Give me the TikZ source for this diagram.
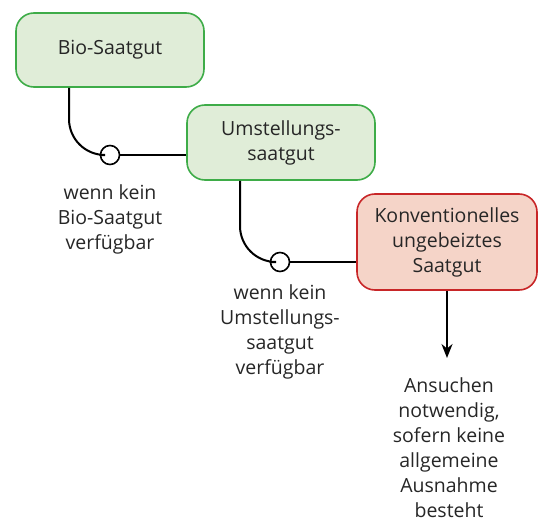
\documentclass[tikz,border=0pt]{standalone}
\usepackage{fontspec}
\setmainfont{Open Sans}
\usetikzlibrary{arrows.meta}

\definecolor{gruenrand}{RGB}{62,172,72}
\definecolor{gruenfill}{RGB}{224,237,216}
\definecolor{rotrand}{RGB}{200,38,40}
\definecolor{rotfill}{RGB}{245,212,200}

\tikzset{
    box/.style={rounded corners=18pt, line width=1.6pt, align=center,
        font=\fontsize{19.5}{25}\selectfont, text=black!85},
    bio/.style={box, draw=gruenrand, fill=gruenfill},
    konv/.style={box, draw=rotrand, fill=rotfill},
    knoten/.style={circle, draw, line width=1.6pt, fill=white, minimum size=19pt, inner sep=0pt},
    verb/.style={line width=2pt, rounded corners=36pt},
    hinweis/.style={align=center, font=\fontsize{19.5}{25}\selectfont, text=black!85}
}

\begin{document}
\begin{tikzpicture}[x=1pt, y=-1pt]
    % 画布大小
    \useasboundingbox (0,0) rectangle (538,524);

    % 三个方框
    \node[bio, minimum width=188pt, minimum height=74pt] (bio) at (110,50) {Bio-Saatgut};
    \node[bio, minimum width=188pt, minimum height=75pt] (umst) at (281,142.5) {Umstellungs-\\saatgut};
    \node[konv, minimum width=180pt, minimum height=96pt] (konv) at (447,242) {Konventionelles\\ungebeiztes\\Saatgut};

    % 分支点
    \node[knoten] (k1) at (110,155) {};
    \node[knoten] (k2) at (280,262) {};

    % 连线
    \draw[verb] ([xshift=-41pt]bio.south) |- (k1.west);
    \draw[line width=2pt] (k1.east) -- (k1.east -| umst.west);
    \draw[verb] ([xshift=-41pt]umst.south) |- (k2.west);
    \draw[line width=2pt] (k2.east) -- (k2.east -| konv.west);

    % 说明文字
    \node[hinweis, anchor=north] (t1) at (110,181) {wenn kein\\Bio-Saatgut\\verfügbar};
    \node[hinweis, anchor=north] (t2) at (280,281) {wenn kein\\Umstellungs-\\saatgut\\verfügbar};
    \node[hinweis, anchor=north] (t3) at (449,374) {Ansuchen\\notwendig,\\sofern keine\\allgemeine\\Ausnahme\\besteht};

    % 箭头
    \draw[line width=2pt, shorten >=16pt, -{Stealth[length=14pt, width=11pt]}] (konv.south) -- (konv.south |- t3.north);
\end{tikzpicture}
\end{document}
